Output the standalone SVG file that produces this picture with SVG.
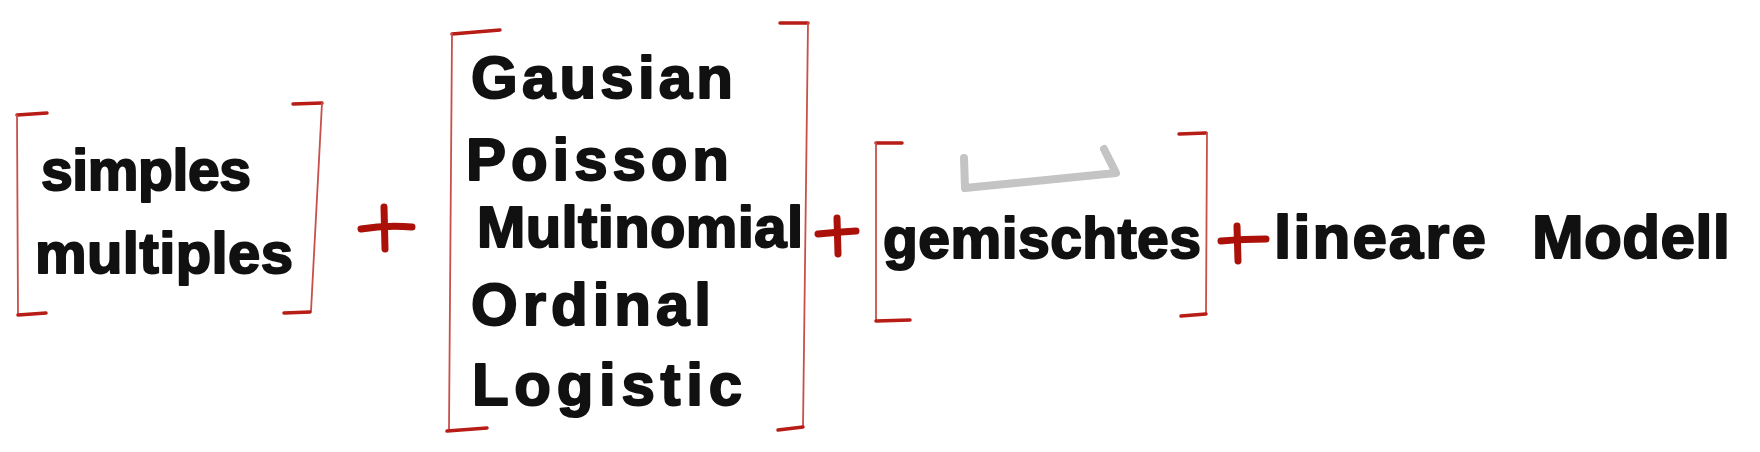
<svg xmlns="http://www.w3.org/2000/svg" width="1760" height="452" viewBox="0 0 1760 452">
<style>
.txt{font-family:"Liberation Sans",Arial,sans-serif;font-weight:bold;fill:#111;stroke:#111;stroke-width:2;stroke-linejoin:round}
.tick{fill:none;stroke:#b81c16;stroke-width:3.5;stroke-linecap:round}
.vert{fill:none;stroke:#c8504a;stroke-width:1.8;stroke-linecap:round}
.plus{fill:none;stroke:#ab1109;stroke-width:7;stroke-linecap:round}
.mark{fill:none;stroke:#c4c4c4;stroke-width:8;stroke-linecap:round;stroke-linejoin:round}
</style>
<rect width="1760" height="452" fill="#fff"/>
<g id="connectors">
<g id="plus1"><path class="plus" d="M361 229 Q385 225 412 227"/><path class="plus" d="M384 207 L385 249"/></g>
<g id="plus2"><path class="plus" d="M818 234 Q838 232 856 231"/><path class="plus" d="M837 218 L838 254"/></g>
<g id="plus3"><path class="plus" d="M1221 241 Q1245 239 1266 239"/><path class="plus" d="M1237 226 L1238 261"/></g>
</g>
<g id="node-simples">
<path class="tick" d="M17 115 L47 113"/><path class="vert" d="M17 115 L18 314"/><path class="tick" d="M18 315 L46 313"/>
<path class="tick" d="M293 104 L322 103"/><path class="vert" d="M322 103 L311 311"/><path class="tick" d="M284 313 L310 312"/>
<text class="txt" x="41" y="190" font-size="57" textLength="210" lengthAdjust="spacing">simples</text>
<text class="txt" x="35" y="273" font-size="58" textLength="258" lengthAdjust="spacing">multiples</text>
</g>
<g id="node-families">
<path class="tick" d="M452 34 L500 30"/><path class="vert" d="M452 34 L449 429"/><path class="tick" d="M447 431 L487 428"/>
<path class="tick" d="M780 23 L808 23"/><path class="vert" d="M808 23 L803 427"/><path class="tick" d="M778 430 L803 427"/>
<text class="txt" x="471" y="98" font-size="60" textLength="262" lengthAdjust="spacing">Gausian</text>
<text class="txt" x="466" y="180" font-size="60" textLength="263" lengthAdjust="spacing">Poisson</text>
<text class="txt" x="477" y="247" font-size="58" textLength="326" lengthAdjust="spacing">Multinomial</text>
<text class="txt" x="471" y="325" font-size="60" textLength="240" lengthAdjust="spacing">Ordinal</text>
<text class="txt" x="472" y="405" font-size="60" textLength="270" lengthAdjust="spacing">Logistic</text>
</g>
<g id="node-gemischtes">
<path class="tick" d="M876 143 L902 143"/><path class="vert" d="M876 143 L876 321"/><path class="tick" d="M876 321 L910 320"/>
<path class="tick" d="M1179 134 L1206 133"/><path class="vert" d="M1207 133 L1206 314"/><path class="tick" d="M1181 316 L1206 314"/>
<path class="mark" d="M964 158 L965 188 L1116 173 L1104 149"/>
<text class="txt" x="883" y="258" font-size="57" textLength="318" lengthAdjust="spacing">gemischtes</text>
</g>
<g id="node-modell">
<text class="txt" y="258" font-size="62"><tspan x="1274" textLength="212" lengthAdjust="spacing">lineare</tspan><tspan x="1532" textLength="198" lengthAdjust="spacing">Modell</tspan></text>
</g>
</svg>
